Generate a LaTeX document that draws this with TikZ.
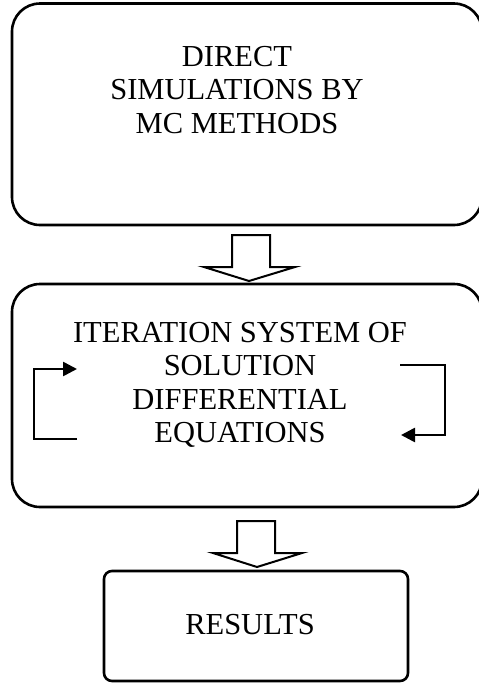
\documentclass[tikz,border=0pt]{standalone}
\usepackage{fontspec}
\setmainfont{Liberation Serif}
\usetikzlibrary{arrows.meta}
\tikzset{
  box/.style={draw=black, line width=2.6pt, rectangle, inner sep=0pt},
  bigbox/.style={box, rounded corners=28pt},
  smallbox/.style={box, rounded corners=8pt},
  txt/.style={align=center, inner sep=0pt, font=\fontsize{30.5}{33.5}\selectfont},
  blockarrow/.style={draw=black, line width=2pt, fill=white, line join=miter},
  loop/.style={draw=black, line width=2.6pt, -{Triangle[length=14pt,width=14pt]}}
}
\begin{document}
\begin{tikzpicture}[x=1pt,y=-1pt]
\useasboundingbox (0,0) rectangle (479,686);
% boxes
\node[bigbox, minimum width=470pt, minimum height=221.5pt] (b1) at (247,114.25) {};
\node[bigbox, minimum width=470pt, minimum height=223pt] (b2) at (247,395.5) {};
\node[smallbox, minimum width=304pt, minimum height=110pt] (b3) at (256,626) {};
% texts
\node[txt] (t1) at (237,90) {DIRECT\\SIMULATIONS BY\\MC METHODS};
\node[txt] (t2) at (240,385) {ITERATION SYSTEM OF\\SOLUTION\\DIFFERENTIAL\\EQUATIONS};
\node[txt] (t3) at (250,624.5) {RESULTS};
% block arrows
\draw[blockarrow] (232,235) -- (232,267) -- (204,267) -- (249,281) -- (295,267) -- (270,267) -- (270,235) -- cycle;
\draw[blockarrow] (237,521) -- (237,553) -- (213,553) -- (257,567) -- (302,553) -- (275,553) -- (275,521) -- cycle;
% iteration loops
\coordinate (la) at (77,439);
\coordinate (lb) at (77,369);
\coordinate (ra) at (400,365);
\coordinate (rb) at (401,435);
\draw[loop] (la) -- (34,439) -- (34,369) -- (lb);
\draw[loop] (ra) -- (445,365) -- (445,435) -- (rb);
\end{tikzpicture}
\end{document}
